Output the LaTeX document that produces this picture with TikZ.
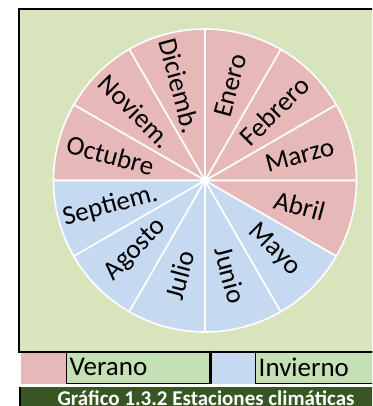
\documentclass[tikz,border=0pt]{standalone}
\usepackage{fontspec}
\setmainfont{Carlito}
\usetikzlibrary{positioning}

\definecolor{plotgreen}{RGB}{216,228,188}
\definecolor{summerpink}{RGB}{230,185,184}
\definecolor{winterblue}{RGB}{197,217,241}
\definecolor{keygreen}{RGB}{197,224,180}
\definecolor{titlegreen}{RGB}{55,86,35}

\begin{document}
\begin{tikzpicture}[
    x=1pt, y=1pt,
    slice/.style={draw=white, line width=1.6pt, line join=round},
    monthlabel/.style={font=\fontsize{27}{27}\selectfont, inner sep=0pt},
    swatch/.style={rectangle, minimum width=45pt, minimum height=32pt, anchor=south west, inner sep=0pt},
    keybox/.style={rectangle, draw=black, line width=1.4pt, fill=keygreen, minimum height=32pt,
                   anchor=south west, inner sep=3pt, align=left, font=\fontsize{27}{27}\selectfont},
    titlestyle/.style={font=\fontsize{21}{21}\selectfont\bfseries, text=white, inner sep=0pt}
]

\useasboundingbox (0,0) rectangle (372,406);
\clip (0,0) rectangle (372,406);

% ==================== PLOT AREA ====================
\draw[fill=plotgreen, line width=2pt] (18.5,53.5) rectangle (390,396.5);

\coordinate (centre) at (205,225.5);

% summer slices
\foreach \a in {0,30,60,90,120,150,-30}
    \draw[slice, fill=summerpink] (centre) -- +(\a:151.5) arc[start angle=\a, delta angle=30, radius=151.5] -- cycle;
% winter slices
\foreach \a in {180,210,240,270,300}
    \draw[slice, fill=winterblue] (centre) -- +(\a:151.5) arc[start angle=\a, delta angle=30, radius=151.5] -- cycle;

% month labels, right half reads outwards, left half inwards
\foreach \month/\mid [count=\i] in {Enero/75, Febrero/45, Marzo/15, Abril/-15, Mayo/-45, Junio/-75}
    \node[monthlabel, rotate=\mid] (month-r\i) at ([shift={(\mid:98)}]centre) {\month};
\foreach \month/\mid [count=\i] in {Julio/-105, Agosto/-135, Septiem./-165, Octubre/165, Noviem./135, Diciemb./105}
    \node[monthlabel, rotate=\mid-180] (month-l\i) at ([shift={(\mid:98)}]centre) {\month};

% ==================== LEGEND ====================
\node[swatch, fill=summerpink] (verano-swatch) at (21,22) {};
\node[keybox, minimum width=143pt, text width=137pt] (verano-key) at (66,22) {Verano};
\node[swatch, minimum width=43pt, fill=winterblue] (invierno-swatch) at (212,22) {};
\node[keybox, minimum width=140pt, text width=134pt] (invierno-key) at (255,22) {Invierno};
\draw[line width=3pt] (verano-key.north east) -- (verano-key.south east);
\draw[line width=2pt] (18.5,54) -- (390,54);

% ==================== TITLE ====================
\fill[titlegreen] (19,0) rectangle (390,19);
\draw[line width=2pt] (20,0) -- (20,19);
\node[titlestyle, anchor=base] (title) at (206,0.8) {Gráfico 1.3.2 Estaciones climáticas};

\end{tikzpicture}
\end{document}
